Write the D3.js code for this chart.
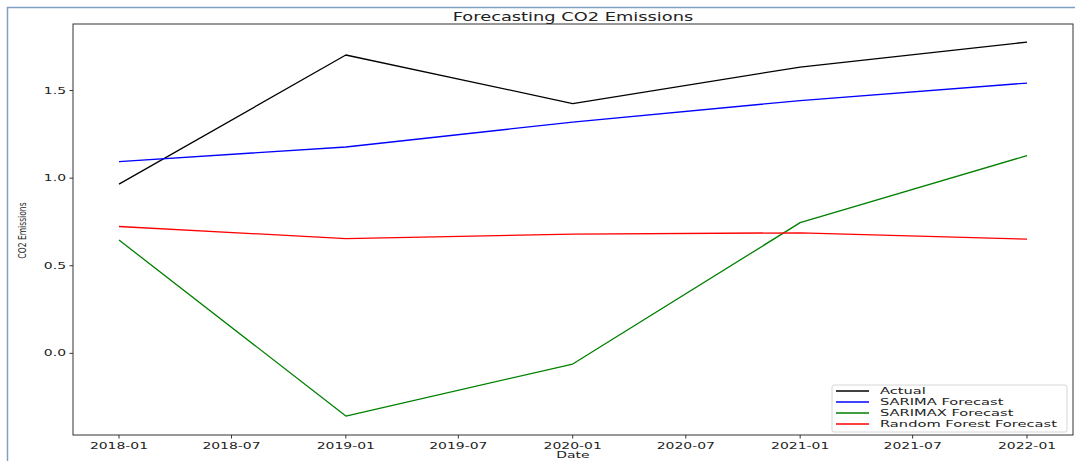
<!DOCTYPE html>
<html>
<head>
<meta charset="utf-8">
<script src="https://cdn.jsdelivr.net/npm/d3@7"></script>
<style>
  html, body { margin: 0; padding: 0; background: #fff; }
  svg { display: block; }
  text { font-family: "DejaVu Sans", sans-serif; fill: #222; }
</style>
</head>
<body>
<svg id="chart" width="1075" height="461"></svg>
<script>
// Yearly observations and model forecasts
const dates = ["2018-01-01", "2019-01-01", "2020-01-01", "2021-01-01", "2022-01-01"];
const actual = [0.966, 1.703, 1.426, 1.634, 1.777];
const sarima = [1.095, 1.178, 1.320, 1.443, 1.543];
const sarimax = [0.647, -0.358, -0.061, 0.746, 1.129];
const randomForest = [0.724, 0.655, 0.681, 0.688, 0.652];

const seriesNames = ["Actual", "SARIMA Forecast", "SARIMAX Forecast", "Random Forest Forecast"];
const seriesColors = ["#000000", "#0000ff", "#008000", "#ff0000"];

const xTickDates = ["2018-01-01", "2018-07-01", "2019-01-01", "2019-07-01", "2020-01-01",
                    "2020-07-01", "2021-01-01", "2021-07-01", "2022-01-01"];
const yTickValues = [0.0, 0.5, 1.0, 1.5];
const yDomain = [-0.466, 1.88];

const parse = d3.timeParse("%Y-%m-%d");
const fmt = d3.timeFormat("%Y-%m");
const X_STRETCH = 1.55;

const svg = d3.select("#chart");
const plot = { left: 73, top: 24, right: 1073, bottom: 435 };

// outer panel border
svg.append("line").attr("x1", 7).attr("x2", 1075).attr("y1", 7.5).attr("y2", 7.5)
  .attr("stroke", "#7f9fc6").attr("stroke-width", 1.5);
svg.append("line").attr("x1", 7.5).attr("x2", 7.5).attr("y1", 7).attr("y2", 461)
  .attr("stroke", "#7f9fc6").attr("stroke-width", 1.5);

const dateVals = dates.map(parse);
const x = d3.scaleTime()
  .domain([d3.timeDay.offset(dateVals[0], -74), d3.timeDay.offset(dateVals[dateVals.length - 1], 74)])
  .range([plot.left, plot.right]);
const y = d3.scaleLinear().domain(yDomain).range([plot.bottom, plot.top]);

// horizontally stretched label helper
function label(px, py, str, opts = {}) {
  const g = svg.append("g")
    .attr("transform", `translate(${px},${py}) ${opts.rotate ? "rotate(-90) scale(1," + (opts.sx || X_STRETCH) + ")" : "scale(" + (opts.sx || X_STRETCH) + ",1)"}`);
  g.append("text")
    .attr("text-anchor", opts.anchor || "middle")
    .attr("dominant-baseline", opts.baseline || "auto")
    .attr("font-size", opts.size || 9)
    .text(str);
  return g;
}

// series lines
const seriesData = [actual, sarima, sarimax, randomForest];
const line = d3.line().x((d, i) => x(dateVals[i])).y(d => y(d));
seriesData.forEach((vals, k) => {
  svg.append("path")
    .datum(vals)
    .attr("d", line)
    .attr("fill", "none")
    .attr("stroke", seriesColors[k])
    .attr("stroke-width", 1.3)
    .attr("stroke-linejoin", "round");
});

// axes frame
svg.append("rect")
  .attr("x", plot.left).attr("y", plot.top)
  .attr("width", plot.right - plot.left).attr("height", plot.bottom - plot.top)
  .attr("fill", "none").attr("stroke", "#333").attr("stroke-width", 1);

// x ticks
xTickDates.map(parse).forEach(d => {
  const px = x(d);
  svg.append("line").attr("x1", px).attr("x2", px)
    .attr("y1", plot.bottom).attr("y2", plot.bottom + 3.5)
    .attr("stroke", "#333").attr("stroke-width", 1);
  label(px, plot.bottom + 14, fmt(d));
});

// y ticks
yTickValues.forEach(v => {
  const py = y(v);
  svg.append("line").attr("x1", plot.left - 3.5).attr("x2", plot.left)
    .attr("y1", py).attr("y2", py)
    .attr("stroke", "#333").attr("stroke-width", 1);
  label(plot.left - 7, py, v.toFixed(1), { anchor: "end", baseline: "central" });
});

// titles
label((plot.left + plot.right) / 2, 20.5, "Forecasting CO2 Emissions", { size: 11.5, sx: 1.55 });
label((plot.left + plot.right) / 2, 458, "Date");
label(26, (plot.top + plot.bottom) / 2 + 1, "CO2 Emissions", { rotate: true, size: 7.6, sx: 1.4 });

// legend
const lg = { x: 832, y: 385, w: 235, h: 47 };
svg.append("rect")
  .attr("x", lg.x).attr("y", lg.y).attr("width", lg.w).attr("height", lg.h)
  .attr("rx", 2).attr("fill", "#fff").attr("fill-opacity", 0.85)
  .attr("stroke", "#d6d6d6").attr("stroke-width", 1);
seriesNames.forEach((name, i) => {
  const ry = lg.y + 6 + i * 11;
  svg.append("line").attr("x1", lg.x + 4).attr("x2", lg.x + 37)
    .attr("y1", ry).attr("y2", ry)
    .attr("stroke", seriesColors[i]).attr("stroke-width", 1.3);
  label(lg.x + 48, ry, name, { anchor: "start", baseline: "central", sx: 1.63 });
});
</script>
</body>
</html>
